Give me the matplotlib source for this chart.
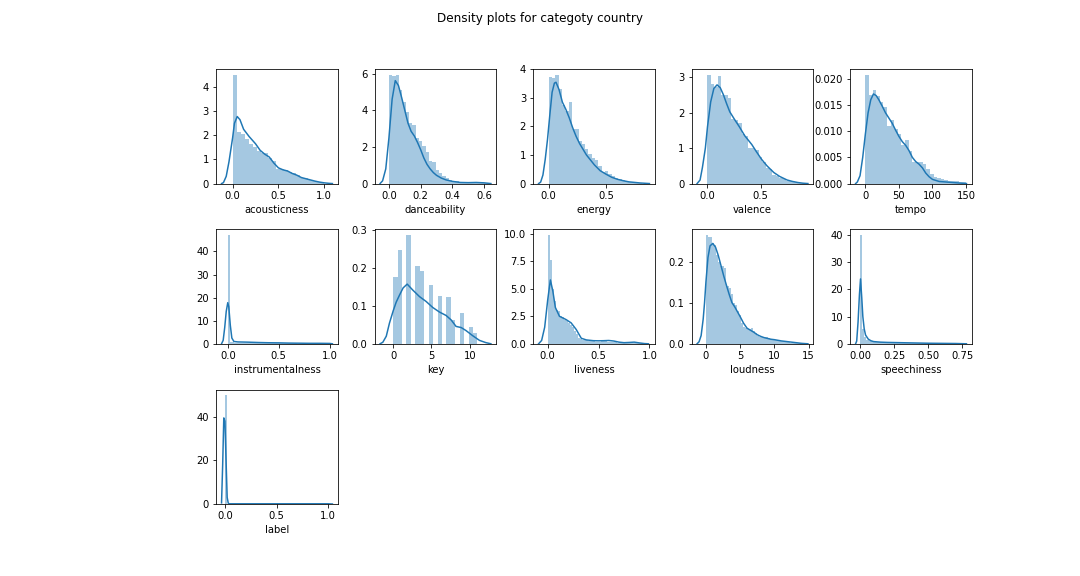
"""
Density plots (histogram + kde) for every feature of category country
"""

import numpy as np
import matplotlib.pyplot as plt

#region Data

columns = ['acousticness', 'danceability', 'energy', 'valence', 'tempo',
           'instrumentalness', 'key', 'liveness', 'loudness', 'speechiness',
           'label']

# histogram heights (density) per bin, bins run over hist_range below
acousticness_hist = [4.52, 2.15, 2.05, 1.85, 1.65, 1.5, 1.35, 1.25, 1.25, 1.05,
                     0.95, 0.62, 0.6, 0.55, 0.5, 0.42, 0.35, 0.25, 0.22, 0.15,
                     0.12, 0.08, 0.05]
danceability_hist = [5.9, 5.85, 5.95, 5.1, 4.45, 3.9, 3.3, 3.2, 2.5, 2.3,
                     2.05, 1.7, 1.25, 1.2, 0.75, 0.55, 0.42, 0.3, 0.22, 0.16,
                     0.12, 0.08, 0.06, 0.05, 0.06, 0.07, 0.06, 0.05, 0.04, 0.03]
energy_hist = [3.72, 3.7, 3.82, 3.3, 2.75, 2.55, 2.85, 1.9, 1.9, 1.48,
               1.4, 1.2, 1.05, 0.9, 0.82, 0.6, 0.41, 0.45, 0.35, 0.25,
               0.2, 0.15, 0.12, 0.08, 0.06, 0.04, 0.03, 0.02]
valence_hist = [3.07, 2.8, 2.72, 3.02, 2.5, 2.5, 2.4, 1.82, 1.8, 1.7,
                1.4, 1.35, 1.0, 1.0, 0.95, 0.75, 0.6, 0.45, 0.4, 0.25,
                0.2, 0.17, 0.12, 0.08, 0.06, 0.04, 0.03, 0.02]
tempo_hist = [0.0208, 0.0169, 0.0179, 0.0168, 0.0155, 0.0147, 0.011, 0.0122,
              0.0105, 0.0095, 0.0073, 0.0084, 0.0062, 0.0042, 0.0042, 0.0041,
              0.0038, 0.0028, 0.0018, 0.0013, 0.001, 0.0008, 0.0006, 0.0005,
              0.0004, 0.0004, 0.0003, 0.0003]
instrumentalness_hist = [47.2, 0.9, 0.6, 0.5, 0.45, 0.4, 0.4, 0.35, 0.35, 0.3,
                         0.3, 0.3, 0.25, 0.25, 0.25, 0.25, 0.2, 0.2, 0.2, 0.2,
                         0.2, 0.2, 0.2, 0.2, 0.2, 0.2, 0.15, 0.15, 0.15, 0.15,
                         0.15, 0.15, 0.15, 0.15, 0.1, 0.1, 0.1, 0.1, 0.1, 0.1,
                         0.1, 0.1, 0.1, 0.1, 0.1, 0.1, 0.1, 0.1, 0.1, 0.2]
liveness_hist = [9.9, 7.6, 5.0, 3.9, 3.1, 3.0, 2.5, 2.4, 2.2, 2.1,
                 1.9, 1.7, 1.5, 1.2, 0.9, 0.5, 0.4, 0.35, 0.3, 0.3,
                 0.25, 0.25, 0.25, 0.2, 0.2, 0.2, 0.25, 0.3, 0.25, 0.2,
                 0.2, 0.2, 0.15, 0.15, 0.1, 0.1, 0.1, 0.12, 0.15, 0.15,
                 0.12, 0.1, 0.08, 0.06, 0.05, 0.04, 0.03, 0.03, 0.02, 0.02]
loudness_hist = [0.265, 0.26, 0.26, 0.245, 0.24, 0.215, 0.2, 0.19, 0.19, 0.185,
                 0.14, 0.135, 0.12, 0.1, 0.095, 0.08, 0.07, 0.05, 0.04, 0.038,
                 0.035, 0.035, 0.038, 0.03, 0.025, 0.02, 0.017, 0.016, 0.015, 0.016,
                 0.014, 0.012, 0.01, 0.009, 0.008, 0.007, 0.006, 0.006, 0.005, 0.004,
                 0.004, 0.003, 0.003, 0.003, 0.002, 0.002, 0.002, 0.001]
speechiness_hist = [40.0, 5.5, 2.5, 1.5, 1.0, 0.9, 0.8, 0.7, 0.6, 0.6,
                    0.55, 0.5, 0.5, 0.45, 0.45, 0.4, 0.4, 0.35, 0.35, 0.3,
                    0.3, 0.3, 0.3, 0.25, 0.25, 0.25, 0.25, 0.2, 0.2, 0.2,
                    0.2, 0.2, 0.15, 0.15, 0.15, 0.15, 0.15, 0.1, 0.1, 0.1,
                    0.1, 0.1, 0.1, 0.1, 0.1, 0.1, 0.05, 0.05, 0.05, 0.05]
label_hist = [50.0, 0, 0, 0, 0, 0, 0, 0, 0, 0,
              0, 0, 0, 0, 0, 0, 0, 0, 0, 0,
              0, 0, 0, 0, 0, 0, 0, 0, 0, 0,
              0, 0, 0, 0, 0, 0, 0, 0, 0, 0,
              0, 0, 0, 0, 0, 0, 0, 0, 0, 0.1]

# key is integer valued: one density per key 0..11
key_values = [0, 1, 2, 3, 4, 5, 6, 7, 8, 9, 10, 11]
key_hist = [0.178, 0.248, 0.2886, 0.206, 0.1935, 0.156, 0.1276, 0.125,
            0.064, 0.0827, 0.0449, 0.028]

# kde curves (x, y)
acousticness_kde_x = [-0.121, -0.1, -0.07, -0.04, -0.02, 0.0, 0.02, 0.05, 0.08, 0.12,
                      0.18, 0.25, 0.3, 0.35, 0.4, 0.45, 0.5, 0.55, 0.6, 0.65,
                      0.7, 0.75, 0.8, 0.85, 0.9, 0.95, 1.0, 1.05, 1.089]
acousticness_kde_y = [0.0, 0.04, 0.3, 0.9, 1.4, 1.9, 2.5, 2.78, 2.65, 2.25,
                      1.95, 1.65, 1.38, 1.22, 1.1, 0.85, 0.65, 0.57, 0.52, 0.42,
                      0.35, 0.25, 0.2, 0.15, 0.1, 0.06, 0.03, 0.01, 0.0]
danceability_kde_x = [-0.056, -0.04, -0.02, 0.0, 0.02, 0.04, 0.06, 0.08, 0.1, 0.12,
                      0.14, 0.16, 0.18, 0.2, 0.22, 0.24, 0.26, 0.28, 0.3, 0.33,
                      0.36, 0.4, 0.45, 0.5, 0.55, 0.6, 0.643]
danceability_kde_y = [0.0, 0.15, 0.8, 2.5, 4.6, 5.62, 5.35, 4.7, 4.0, 3.3,
                      2.85, 2.6, 2.25, 1.85, 1.4, 1.05, 0.8, 0.6, 0.45, 0.3,
                      0.2, 0.12, 0.06, 0.05, 0.06, 0.04, 0.0]
energy_kde_x = [-0.088, -0.07, -0.05, -0.03, -0.01, 0.01, 0.03, 0.05, 0.064, 0.09,
                0.12, 0.15, 0.18, 0.21, 0.24, 0.27, 0.3, 0.33, 0.36, 0.4,
                0.45, 0.5, 0.55, 0.6, 0.65, 0.7, 0.75, 0.8, 0.879]
energy_kde_y = [0.0, 0.05, 0.3, 0.85, 1.55, 2.4, 3.2, 3.52, 3.55, 3.3,
                2.85, 2.6, 2.3, 1.95, 1.65, 1.4, 1.2, 1.0, 0.85, 0.65,
                0.45, 0.33, 0.22, 0.15, 0.1, 0.06, 0.04, 0.02, 0.0]
valence_kde_x = [-0.098, -0.07, -0.048, -0.02, 0.0, 0.03, 0.06, 0.09, 0.12, 0.15,
                 0.18, 0.21, 0.256, 0.3, 0.35, 0.417, 0.46, 0.51, 0.56, 0.625,
                 0.68, 0.75, 0.8, 0.85, 0.9, 0.946]
valence_kde_y = [0.0, 0.1, 0.45, 1.0, 1.6, 2.3, 2.68, 2.78, 2.7, 2.5,
                 2.25, 2.02, 1.8, 1.6, 1.35, 1.1, 0.9, 0.68, 0.5, 0.31,
                 0.2, 0.1, 0.06, 0.03, 0.01, 0.0]
tempo_kde_x = [-14.6, -12, -8, -4, 0, 4, 8, 12, 16, 20,
               25, 30, 35, 40, 45, 50, 55, 60, 65, 70,
               75, 80, 85, 90, 95, 100, 110, 120, 130, 140, 150.7]
tempo_kde_y = [0.0, 0.0003, 0.0015, 0.005, 0.0095, 0.0135, 0.016, 0.0171, 0.0168, 0.016,
               0.0148, 0.0135, 0.0125, 0.0115, 0.0102, 0.009, 0.008, 0.0073, 0.0063, 0.005,
               0.0042, 0.0037, 0.003, 0.002, 0.0013, 0.0008, 0.0004, 0.0003, 0.0002, 0.0001, 0.0]
instrumentalness_kde_x = [-0.061, -0.045, -0.03, -0.015, 0.0, 0.01, 0.025, 0.04, 0.06, 0.1,
                          0.2, 0.3, 0.4, 0.5, 0.6, 0.7, 0.8, 0.9, 1.0, 1.026]
instrumentalness_kde_y = [0.0, 1.5, 7.0, 14.0, 17.8, 16.0, 8.0, 2.5, 1.0, 0.8,
                          0.7, 0.55, 0.45, 0.4, 0.3, 0.25, 0.2, 0.2, 0.15, 0.0]
key_kde_x = [-1.71, -1.35, -0.9, -0.48, 0.0, 0.39, 0.83, 1.3, 1.83, 2.57,
             3.43, 4.3, 5.17, 6.04, 6.9, 7.57, 8.2, 8.87, 9.5, 10.4,
             11.26, 12.1, 12.75]
key_kde_y = [0.0, 0.004, 0.02, 0.055, 0.087, 0.11, 0.129, 0.148, 0.158, 0.142,
             0.125, 0.112, 0.096, 0.084, 0.075, 0.063, 0.046, 0.043, 0.035, 0.021,
             0.009, 0.003, 0.0]
liveness_kde_x = [-0.09, -0.06, -0.03, 0.0, 0.026, 0.05, 0.075, 0.115, 0.18, 0.23,
                  0.28, 0.33, 0.38, 0.45, 0.5, 0.55, 0.6, 0.65, 0.7, 0.75,
                  0.8, 0.85, 0.9, 0.95, 0.99]
liveness_kde_y = [0.0, 0.3, 1.5, 4.0, 5.8, 4.8, 3.3, 2.5, 2.2, 1.9,
                  1.3, 0.5, 0.35, 0.28, 0.27, 0.28, 0.3, 0.25, 0.15, 0.1,
                  0.12, 0.15, 0.08, 0.02, 0.0]
loudness_kde_x = [-1.29, -1.0, -0.7, -0.4, -0.2, 0.0, 0.3, 0.6, 1.0, 1.4,
                  1.8, 2.2, 2.6, 3.0, 3.4, 3.8, 4.2, 4.6, 5.0, 5.5,
                  6.0, 6.5, 7.0, 7.5, 8.0, 8.5, 9.0, 9.5, 10.0, 11.0,
                  12.0, 13.0, 14.0, 14.9]
loudness_kde_y = [0.0, 0.005, 0.02, 0.06, 0.1, 0.15, 0.21, 0.238, 0.244, 0.235,
                  0.215, 0.19, 0.165, 0.142, 0.12, 0.1, 0.09, 0.078, 0.066, 0.05,
                  0.038, 0.033, 0.028, 0.022, 0.018, 0.015, 0.013, 0.011, 0.01, 0.007,
                  0.005, 0.003, 0.001, 0.0]
speechiness_kde_x = [-0.033, -0.025, -0.015, -0.005, 0.003, 0.012, 0.02, 0.03, 0.04, 0.06,
                     0.08, 0.1, 0.15, 0.2, 0.3, 0.4, 0.5, 0.6, 0.7, 0.78]
speechiness_kde_y = [0.0, 1.0, 8.0, 18.0, 23.8, 17.0, 10.0, 5.5, 3.2, 1.7,
                     1.1, 0.8, 0.6, 0.5, 0.4, 0.3, 0.2, 0.15, 0.1, 0.0]
label_kde_x = [-0.037, -0.026, -0.015, -0.004, 0.007, 0.018, 0.029, 0.04, 0.1, 0.3,
               0.5, 0.7, 0.9, 1.0, 1.044]
label_kde_y = [0.5, 18.0, 39.5, 38.0, 20.0, 3.0, 0.3, 0.1, 0.1, 0.1,
               0.1, 0.1, 0.1, 0.1, 0.0]

#endregion

#region Plot setup

# (lo, hi) range the histogram bins cover
hist_range = {
    'acousticness': (0, 1.0),
    'danceability': (0, 0.63),
    'energy': (0, 0.81),
    'valence': (0, 0.9),
    'tempo': (0, 150),
    'instrumentalness': (0, 1.0),
    'key': (0, 11),
    'liveness': (0, 1.0),
    'loudness': (0, 14.4),
    'speechiness': (0, 0.78),
    'label': (0, 1.0),
}

hists = {
    'acousticness': acousticness_hist,
    'danceability': danceability_hist,
    'energy': energy_hist,
    'valence': valence_hist,
    'tempo': tempo_hist,
    'instrumentalness': instrumentalness_hist,
    'liveness': liveness_hist,
    'loudness': loudness_hist,
    'speechiness': speechiness_hist,
    'label': label_hist,
}

kdes = {
    'acousticness': (acousticness_kde_x, acousticness_kde_y),
    'danceability': (danceability_kde_x, danceability_kde_y),
    'energy': (energy_kde_x, energy_kde_y),
    'valence': (valence_kde_x, valence_kde_y),
    'tempo': (tempo_kde_x, tempo_kde_y),
    'instrumentalness': (instrumentalness_kde_x, instrumentalness_kde_y),
    'key': (key_kde_x, key_kde_y),
    'liveness': (liveness_kde_x, liveness_kde_y),
    'loudness': (loudness_kde_x, loudness_kde_y),
    'speechiness': (speechiness_kde_x, speechiness_kde_y),
    'label': (label_kde_x, label_kde_y),
}

#endregion

#region Draw

fig, axes = plt.subplots(3, 5, figsize=(15, 8), dpi=72)
fig.subplots_adjust(left=0.2, right=0.9, top=0.88, bottom=0.125,
                    wspace=0.3, hspace=0.4)
fig.suptitle('Density plots for categoty country')

for i, col in enumerate(columns):
    ax = axes.flat[i]
    lo, hi = hist_range[col]
    if col == 'key':
        # 19 bins over 0..11, one key value per used bin
        edges = np.linspace(lo, hi, 20)
        ax.hist(key_values, bins=edges, weights=key_hist, color='C0', alpha=0.4)
    else:
        heights = hists[col]
        edges = np.linspace(lo, hi, len(heights) + 1)
        centers = (edges[:-1] + edges[1:]) / 2
        ax.hist(centers, bins=edges, weights=heights, color='C0', alpha=0.4)
    kx, ky = kdes[col]
    ax.plot(kx, ky, color='C0', linewidth=1.5)
    ax.set_xlabel(col)

# hide the unused grid cells
for ax in axes.flat[len(columns):]:
    ax.set_visible(False)

plt.savefig('out.png', dpi=72)

#endregion
